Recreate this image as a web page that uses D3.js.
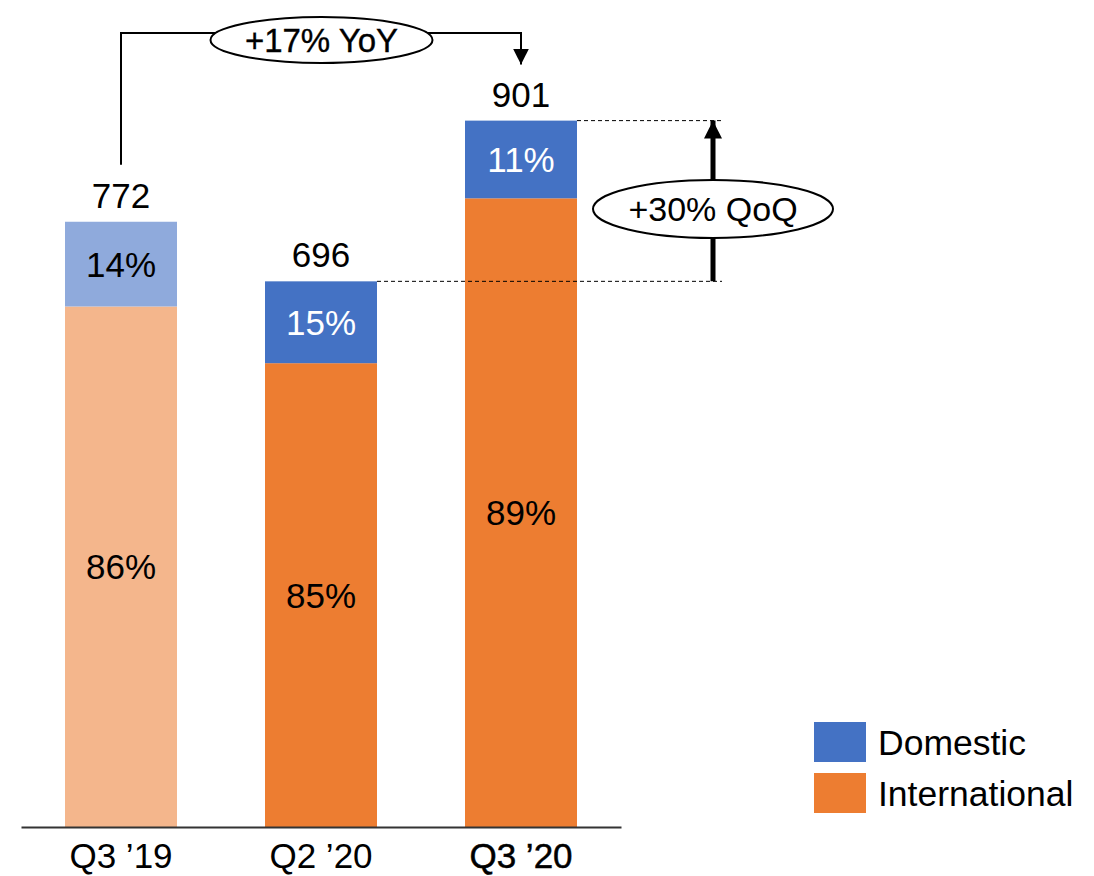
<!DOCTYPE html>
<html>
<head>
<meta charset="utf-8">
<script src="https://cdn.jsdelivr.net/npm/d3@7"></script>
<style>
  html, body { margin: 0; padding: 0; background: #fff; }
  svg { display: block; font-family: "Liberation Sans", Arial, sans-serif; }
</style>
</head>
<body>
<svg id="chart" width="1094" height="876"></svg>
<script>
// Quarterly totals and the domestic / international split (percent)
const quarters = ["Q3 \u201919", "Q2 \u201920", "Q3 \u201920"];
const totals = [772, 696, 901];
const domesticShare = [14, 15, 11];
const internationalShare = [86, 85, 89];
const seriesNames = ["Domestic", "International"];
const yoyLabel = "+17% YoY";
const qoqLabel = "+30% QoQ";

const colors = {
  Domestic: "#4472C4",
  International: "#ED7D31",
  DomesticFaded: "#8FAADC",
  InternationalFaded: "#F4B68C"
};

const svg = d3.select("#chart");
const baseY = 827;

const x = d3.scaleBand()
  .domain(quarters)
  .range([21, 621])
  .paddingInner(0.44)
  .paddingOuter(0.22);

const y = d3.scaleLinear()
  .domain([0, 1000])
  .range([baseY, baseY - 784]);

// stacked rows: international at the bottom, domestic on top
const rows = quarters.map((q, i) => ({
  q,
  i,
  total: totals[i],
  intl: totals[i] * internationalShare[i] / 100,
  dom: totals[i] * domesticShare[i] / 100,
  faded: i === 0
}));

const g = svg.append("g");

// international segments
g.selectAll("rect.intl").data(rows).enter().append("rect")
  .attr("class", "intl")
  .attr("x", d => x(d.q))
  .attr("width", x.bandwidth())
  .attr("y", d => y(d.intl))
  .attr("height", d => y(0) - y(d.intl))
  .attr("fill", d => d.faded ? colors.InternationalFaded : colors.International);

// domestic segments
g.selectAll("rect.dom").data(rows).enter().append("rect")
  .attr("class", "dom")
  .attr("x", d => x(d.q))
  .attr("width", x.bandwidth())
  .attr("y", d => y(d.total))
  .attr("height", d => y(d.intl) - y(d.total))
  .attr("fill", d => d.faded ? colors.DomesticFaded : colors.Domestic);

const fs = 35;

// segment percentage labels
g.selectAll("text.intlLbl").data(rows).enter().append("text")
  .attr("x", d => x(d.q) + x.bandwidth() / 2)
  .attr("y", d => (y(0) + y(d.intl)) / 2)
  .attr("dy", "0.36em")
  .attr("text-anchor", "middle")
  .attr("font-size", fs)
  .attr("fill", "#000")
  .text((d, i) => internationalShare[i] + "%");

g.selectAll("text.domLbl").data(rows).enter().append("text")
  .attr("x", d => x(d.q) + x.bandwidth() / 2)
  .attr("y", d => (y(d.intl) + y(d.total)) / 2)
  .attr("dy", "0.36em")
  .attr("text-anchor", "middle")
  .attr("font-size", fs)
  .attr("fill", d => d.faded ? "#000" : "#fff")
  .text((d, i) => domesticShare[i] + "%");

// totals above bars
g.selectAll("text.total").data(rows).enter().append("text")
  .attr("x", d => x(d.q) + x.bandwidth() / 2)
  .attr("y", d => y(d.total) - 14)
  .attr("text-anchor", "middle")
  .attr("font-size", fs)
  .attr("fill", "#000")
  .text(d => d.total);

// baseline and category labels
const xAxis = d3.axisBottom(x).tickSize(0).tickPadding(16);
const axisG = svg.append("g")
  .attr("transform", `translate(0,${baseY})`)
  .call(xAxis);
axisG.select(".domain").attr("stroke", "#333").attr("stroke-width", 2);
axisG.selectAll("text")
  .attr("font-size", fs)
  .attr("font-family", "Liberation Sans, Arial, sans-serif")
  .attr("fill", "#000")
  .attr("stroke", (d, i) => i === quarters.length - 1 ? "#000" : "none")
  .attr("stroke-width", 0.5);

// arrowhead markers
const defs = svg.append("defs");
defs.append("marker")
  .attr("id", "headThin")
  .attr("viewBox", "0 0 10 10")
  .attr("refX", 10).attr("refY", 5)
  .attr("markerUnits", "userSpaceOnUse")
  .attr("markerWidth", 16).attr("markerHeight", 20)
  .attr("orient", "auto")
  .append("path").attr("d", "M0,0 L10,5 L0,10 Z").attr("fill", "#000");
defs.append("marker")
  .attr("id", "headThick")
  .attr("viewBox", "0 0 10 10")
  .attr("refX", 10).attr("refY", 5)
  .attr("markerUnits", "userSpaceOnUse")
  .attr("markerWidth", 18).attr("markerHeight", 22)
  .attr("orient", "auto")
  .append("path").attr("d", "M0,0 L10,5 L0,10 Z").attr("fill", "#000");

// year-over-year bracket
const cx0 = x(quarters[0]) + x.bandwidth() / 2;
const cx2 = x(quarters[2]) + x.bandwidth() / 2;
const bracketY = 33;
svg.append("path")
  .attr("d", `M${cx0},${y(totals[0]) - 57} V${bracketY} H${cx2} V${y(totals[2]) - 56}`)
  .attr("fill", "none")
  .attr("stroke", "#000")
  .attr("stroke-width", 2)
  .attr("marker-end", "url(#headThin)");

const yoyCx = (cx0 + cx2) / 2 + 0.5;
svg.append("ellipse")
  .attr("cx", yoyCx).attr("cy", 40).attr("rx", 111).attr("ry", 23)
  .attr("fill", "#fff").attr("stroke", "#000").attr("stroke-width", 2);
svg.append("text")
  .attr("x", yoyCx).attr("y", 40).attr("dy", "0.36em")
  .attr("text-anchor", "middle")
  .attr("font-size", 33)
  .attr("stroke", "#000")
  .attr("stroke-width", 0.35)
  .attr("fill", "#000")
  .text(yoyLabel);

// quarter-over-quarter marker
const right2 = x(quarters[2]) + x.bandwidth();
const right1 = x(quarters[1]) + x.bandwidth();
const qoqX = right2 + 136;
const dashEnd = qoqX + 9;
svg.append("line")
  .attr("x1", right2).attr("x2", dashEnd)
  .attr("y1", y(totals[2])).attr("y2", y(totals[2]))
  .attr("stroke", "#000").attr("stroke-width", 1).attr("stroke-dasharray", "4,3");
svg.append("line")
  .attr("x1", right1).attr("x2", dashEnd)
  .attr("y1", y(totals[1])).attr("y2", y(totals[1]))
  .attr("stroke", "#000").attr("stroke-width", 1).attr("stroke-dasharray", "4,3");
svg.append("line")
  .attr("x1", qoqX).attr("x2", qoqX)
  .attr("y1", y(totals[1])).attr("y2", y(totals[2]))
  .attr("stroke", "#000").attr("stroke-width", 5)
  .attr("marker-end", "url(#headThick)");

const qoqCy = (y(totals[1]) + y(totals[2])) / 2 + 8;
svg.append("ellipse")
  .attr("cx", qoqX).attr("cy", qoqCy).attr("rx", 120).attr("ry", 29)
  .attr("fill", "#fff").attr("stroke", "#000").attr("stroke-width", 2);
svg.append("text")
  .attr("x", qoqX).attr("y", qoqCy).attr("dy", "0.36em")
  .attr("text-anchor", "middle")
  .attr("font-size", 34)
  .attr("fill", "#000")
  .text(qoqLabel);

// legend
const legend = svg.append("g").attr("transform", "translate(814,722)");
seriesNames.forEach((name, i) => {
  const row = legend.append("g").attr("transform", `translate(0,${i * 51})`);
  row.append("rect").attr("width", 52).attr("height", 40).attr("fill", colors[name]);
  row.append("text")
    .attr("x", 64).attr("y", 20).attr("dy", "0.36em")
    .attr("font-size", 35.5)
    .attr("fill", "#000")
    .text(name);
});
</script>
</body>
</html>
